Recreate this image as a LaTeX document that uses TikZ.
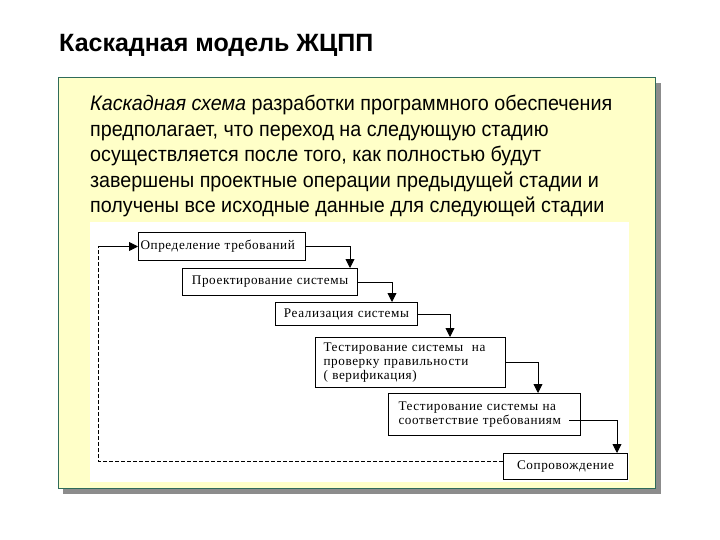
\documentclass[tikz,border=0pt]{standalone}
\usepackage{fontspec}
\setmainfont{Liberation Serif}[LetterSpace=4.5]
\newfontfamily\boxfont{Liberation Serif}[LetterSpace=4.5]
\newfontfamily\titlefont{Liberation Sans}
\newfontfamily\narrowfont[FakeStretch=0.94]{Liberation Sans}
\usetikzlibrary{arrows.meta,positioning}
\definecolor{panelfill}{HTML}{FFFFC8}
\definecolor{panelborder}{HTML}{2F6B5A}
\definecolor{shadowgray}{HTML}{8C8C8C}
\tikzset{
  stagebox/.style={draw=black, line width=1pt, fill=white, anchor=north west, inner sep=2pt,
    font=\boxfont\fontsize{13.2}{14}\selectfont, align=left},
  flow/.style={draw=black, line width=0.9pt, -{Triangle[length=9pt,width=9pt]}},
  backflow/.style={draw=black, line width=0.9pt, dash pattern=on 4pt off 2pt},
}
\begin{document}
\begin{tikzpicture}[x=1pt,y=-1pt]
\useasboundingbox (0,0) rectangle (720,540);
\fill[white] (0,0) rectangle (720,540);
% title
\node[anchor=west, inner sep=0pt, font=\titlefont\bfseries\fontsize{25}{30}\selectfont] (title) at (59,45) {Каскадная модель ЖЦПП};
% panel
\fill[shadowgray] (63,83) rectangle (661,494);
\draw[fill=panelfill, draw=panelborder, line width=1pt] (58,78) rectangle (655,488);
% text
\node[anchor=north west, inner sep=0pt, align=left, font=\narrowfont\fontsize{21}{25.5}\selectfont] (body) at (90,95)
 {\textit{Каскадная схема} разработки программного обеспечения\\
 предполагает, что переход на следующую стадию\\
 осуществляется после того, как полностью будут\\
 завершены проектные операции предыдущей стадии и\\
 получены все исходные данные для следующей стадии};
% white image area
\fill[white] (90,222) rectangle (629,482);
% boxes
\node[stagebox, minimum width=167pt, minimum height=28pt, text width=163pt] (b1) at (138,232) {Определение требований};
\node[stagebox, minimum width=175pt, minimum height=27pt, align=center, text width=171pt] (b2) at (182,268) {Проектирование системы};
\node[stagebox, minimum width=142pt, minimum height=23pt, align=center, text width=138pt] (b3) at (275,302) {Реализация системы};
\node[stagebox, minimum width=184pt, minimum height=50pt, text width=174pt, inner xsep=8pt] (b4) at (315,337) {Тестирование системы \ на\\проверку правильности\\( верификация)};
\node[stagebox, minimum width=186pt, minimum height=42pt, text width=172pt, inner xsep=10pt] (b5) at (388,393) {Тестирование системы на\\соответствие требованиям};
\node[stagebox, minimum width=124pt, minimum height=26pt, align=center, text width=120pt] (b6) at (503,453) {Сопровождение};
% connectors
\draw[flow] (b1.east) -| (350,0 |- b2.north);
\draw[flow] (b2.east) -| (392,0 |- b3.north);
\draw[flow] (b3.east) -| (450,0 |- b4.north);
\draw[flow] (b4.east) -| (538,0 |- b5.north);
\coordinate (b5out) at (569,420);
\draw[flow] (b5out) -| (617,0 |- b6.north);
\coordinate (lb) at (98,461);
\coordinate (lt) at (98,0 |- b1.west);
\draw[backflow] (b6.west |- lb) -- (lb) -- (lt);
\draw[flow] (lt) -- (b1.west);
\end{tikzpicture}
\end{document}
